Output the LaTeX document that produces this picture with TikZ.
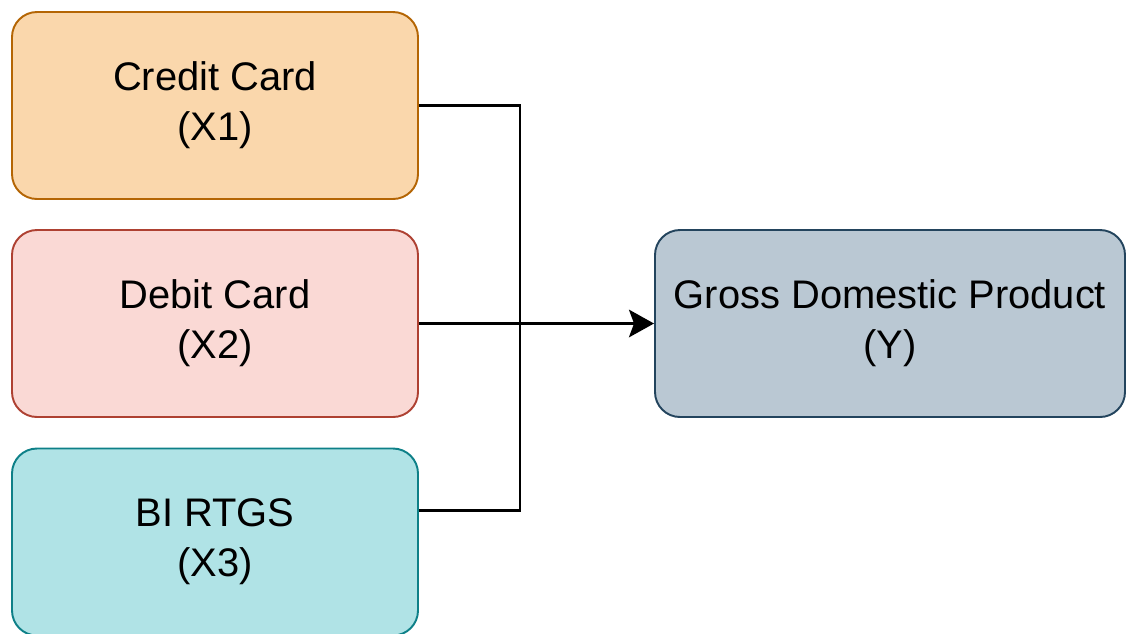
\documentclass[tikz,border=0pt]{standalone}
\usepackage{fontspec}
\setmainfont{Liberation Sans}
\usetikzlibrary{arrows.meta}

\definecolor{ccfill}{HTML}{FAD7AC}
\definecolor{ccline}{HTML}{B46504}
\definecolor{dcfill}{HTML}{FAD9D5}
\definecolor{dcline}{HTML}{AE4132}
\definecolor{rtfill}{HTML}{B0E3E6}
\definecolor{rtline}{HTML}{0E8088}
\definecolor{gdpfill}{HTML}{BAC8D3}
\definecolor{gdpline}{HTML}{23445D}

\begin{document}
\begin{tikzpicture}[
        varbox/.style={draw, line width=1.1pt, rounded corners=0.5cm, minimum height=3.74cm, align=center, font=\fontsize{22.7}{28.5}\selectfont},
        link/.style={line width=1.7pt}
    ]
        \useasboundingbox (0, 0) rectangle (22.54, -12.66);

        % Independent variables
        \node[varbox, fill=ccfill, draw=ccline, minimum width=8.12cm] (cc) at (4.3, -2.11) {Credit Card\\(X1)};
        \node[varbox, fill=dcfill, draw=dcline, minimum width=8.12cm] (dc) at (4.3, -6.47) {Debit Card\\(X2)};
        \node[varbox, fill=rtfill, draw=rtline, minimum width=8.12cm] (rt) at (4.3, -10.84) {BI RTGS\\(X3)};

        % Dependent variable
        \node[varbox, fill=gdpfill, draw=gdpline, minimum width=9.4cm] (gdp) at (17.8, -6.47) {Gross Domestic Product\\(Y)};

        \coordinate (jn) at (10.4, -6.47);
        \draw[link] (cc.east) -| (jn) |- ([yshift=0.64cm]rt.east);
        \draw[link, -{Stealth[length=0.5cm, width=0.55cm, inset=0.1cm]}] (dc.east) -- (gdp.west);
    \end{tikzpicture}
\end{document}
